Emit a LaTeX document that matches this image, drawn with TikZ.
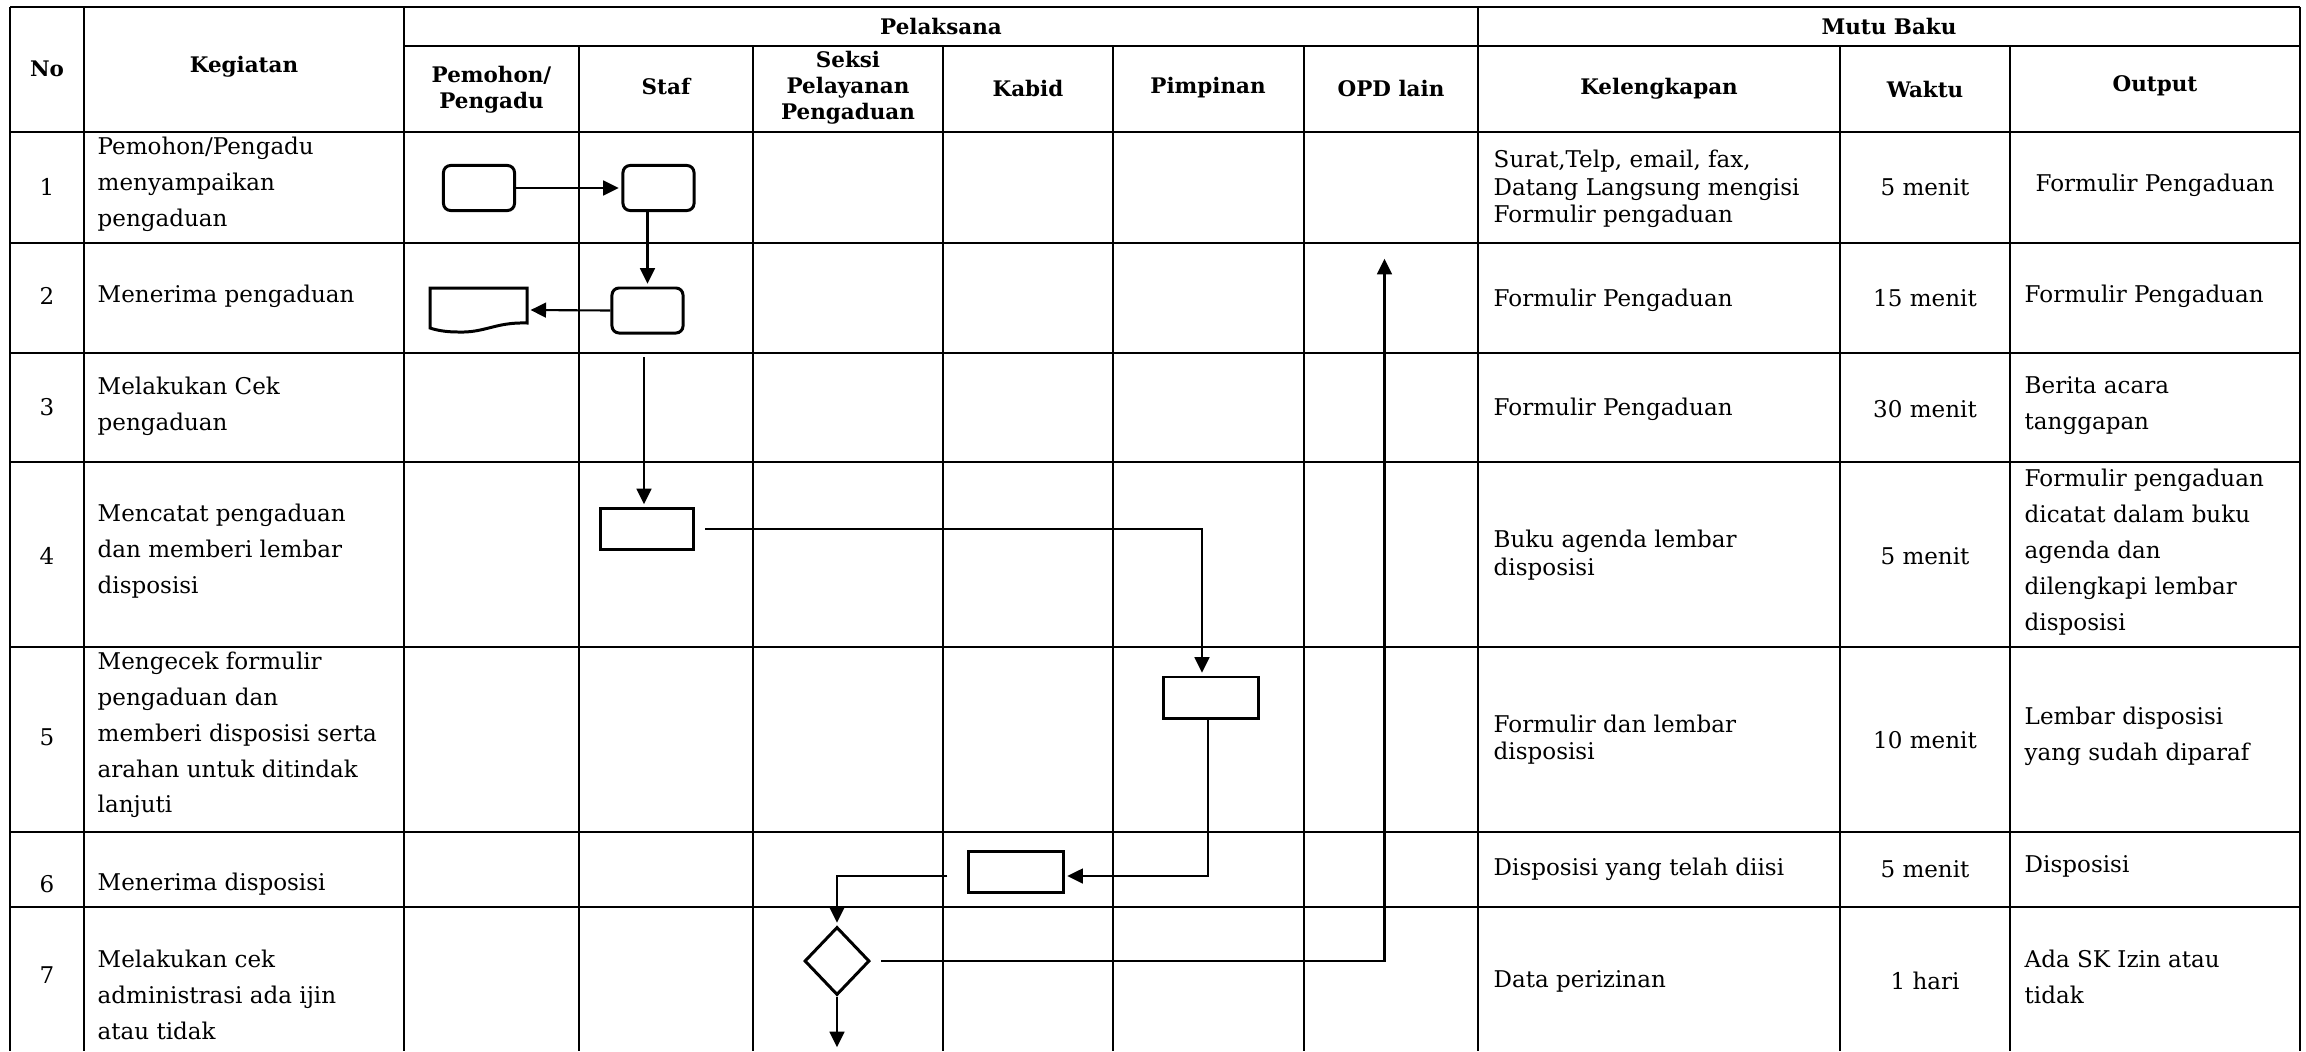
\documentclass[tikz,border=0pt]{standalone}
\usepackage{fontspec}
\setmainfont{DejaVu Serif}
\usetikzlibrary{arrows.meta,shapes.geometric,calc}
\begin{document}
\begin{tikzpicture}[x=0.01cm,y=-0.01cm,
  tbl/.style={line width=0.75pt},
  rbox/.style={draw,line width=0.85pt,rounded corners=2pt,minimum width=0.71cm,minimum height=0.45cm,inner sep=0},
  sbox/.style={draw,line width=0.85pt,minimum width=0.94cm,minimum height=0.41cm,inner sep=0},
  dec/.style={draw,diamond,line width=0.85pt,minimum width=0.65cm,minimum height=0.68cm,inner sep=0},
  conn/.style={line width=0.6pt,shorten >=0.8pt,-{Triangle[length=4.4pt,width=4.2pt]}},
  hd/.style={font=\bfseries\fontsize{6.1pt}{7.4pt}\selectfont,align=center,inner sep=0},
  tx/.style={font=\fontsize{6.55pt}{10.2pt}\selectfont,align=left,inner sep=0,anchor=west},
  tk/.style={font=\fontsize{6.55pt}{7.8pt}\selectfont,align=left,inner sep=0,anchor=west},
  tc/.style={font=\fontsize{6.55pt}{10.2pt}\selectfont,align=center,inner sep=0}]
\useasboundingbox[fill=white] (0,0) rectangle (2306,1051);
% table lines
\foreach \x in {10,84,404,1478,2300} \draw[tbl] (\x,7) -- (\x,1051);
\foreach \x in {579,753,943,1113,1304,1840,2010} \draw[tbl] (\x,46) -- (\x,1051);
\draw[tbl] (10,7) -- (2300,7);
\draw[tbl] (404,46) -- (2300,46);
\foreach \y in {132,243,353,462,647,832,907} \draw[tbl] (10,\y) -- (2300,\y);
% headers
\node[hd] (hNo) at (47,69) {No};
\node[hd] (hKeg) at (244,67) {Kegiatan};
\node[hd] (hPel) at (941,26) {Pelaksana};
\node[hd] (hMutu) at (1889,26) {Mutu Baku};
\node[hd] (hPem) at (491.5,90) {Pemohon/\\Pengadu};
\node[hd] (hStaf) at (666,86) {Staf};
\node[hd] (hSeksi) at (848,88) {Seksi\\Pelayanan\\Pengaduan};
\node[hd] (hKabid) at (1028,88) {Kabid};
\node[hd] (hPimp) at (1208,88) {Pimpinan};
\node[hd] (hOPD) at (1391,88) {OPD lain};
\node[hd] (hKel) at (1659,89) {Kelengkapan};
\node[hd] (hWaktu) at (1925,89) {Waktu};
\node[hd] (hOut) at (2155,86) {Output};
% numbers
\node[tc] (n1) at (47,187) {1};
\node[tc] (n2) at (47,296) {2};
\node[tc] (n3) at (47,407) {3};
\node[tc] (n4) at (47,556) {4};
\node[tc] (n5) at (47,737) {5};
\node[tc] (n6) at (47,884) {6};
\node[tc] (n7) at (47,975) {7};
% kegiatan
\node[tx] (k1) at (97,184) {Pemohon/Pengadu\\menyampaikan\\pengaduan};
\node[tx] (k2) at (97,296) {Menerima pengaduan};
\node[tx] (k3) at (97,406) {Melakukan Cek\\pengaduan};
\node[tx] (k4) at (97,551) {Mencatat pengaduan\\dan memberi lembar\\disposisi};
\node[tx] (k5) at (97,735) {Mengecek formulir\\pengaduan dan\\memberi disposisi serta\\arahan untuk ditindak\\lanjuti};
\node[tx] (k6) at (97,884) {Menerima disposisi};
\node[tx] (k7) at (97,995) {Melakukan cek\\administrasi ada ijin\\atau tidak};
% kelengkapan
\node[tk] (l1) at (1493,189) {Surat,Telp, email, fax,\\Datang Langsung mengisi\\Formulir pengaduan};
\node[tk] (l2) at (1493,300) {Formulir Pengaduan};
\node[tk] (l3) at (1493,409) {Formulir Pengaduan};
\node[tk] (l4) at (1493,555) {Buku agenda lembar\\disposisi};
\node[tk] (l5) at (1493,739.5) {Formulir dan lembar\\disposisi};
\node[tk] (l6) at (1493,869) {Disposisi yang telah diisi};
\node[tk] (l7) at (1493,981) {Data perizinan};
% waktu
\node[tc] (w1) at (1925,187) {5 menit};
\node[tc] (w2) at (1925,298.5) {15 menit};
\node[tc] (w3) at (1925,409) {30 menit};
\node[tc] (w4) at (1925,556) {5 menit};
\node[tc] (w5) at (1925,740) {10 menit};
\node[tc] (w6) at (1925,869) {5 menit};
\node[tc] (w7) at (1925,981) {1 hari};
% output
\node[tc] (o1) at (2155,185) {Formulir Pengaduan};
\node[tx] (o2) at (2024,296) {Formulir Pengaduan};
\node[tx] (o3) at (2024,406) {Berita acara\\tanggapan};
\node[tx] (o4) at (2024,552) {Formulir pengaduan\\dicatat dalam buku\\agenda dan\\dilengkapi lembar\\disposisi};
\node[tx] (o5) at (2024,736) {Lembar disposisi\\yang sudah diparaf};
\node[tx] (o6) at (2024,866) {Disposisi};
\node[tx] (o7) at (2024,977) {Ada SK Izin atau\\tidak};
% flow shapes
\node[rbox] (rr1) at (479,188) {};
\node[rbox] (rr2) at (658.5,188) {};
\node[rbox] (rr3) at (647.5,310.5) {};
\node[inner sep=0,minimum width=0.97cm,minimum height=0.44cm] (doc) at (478.5,310) {};
\draw[line width=0.85pt] (430,288) -- (527,288) -- (527,323)
  .. controls (495,322) and (485,333) .. (458,332)
  .. controls (445,332) and (436,330) .. (430,328) -- cycle;
\node[sbox,minimum width=0.93cm] (r4) at (647,529) {};
\node[sbox] (r5) at (1211,697.5) {};
\node[sbox] (r6) at (1016,872) {};
\node[dec] (dia) at (837,961) {};
\coordinate (s3) at (644,357);
\coordinate (end7) at (837,1050);
\coordinate (opd) at (1384.5,256);
% connectors
\draw[conn] (rr1.east) -- (rr2.west);
\draw[conn] (rr3.north |- rr2.south) -- (rr3.north);
\draw[conn] (rr3.west) -- (doc.east);
\draw[conn] (s3) -- (s3 |- r4.north);
\draw[conn] ([xshift=0.1cm]r4.east) -| ([xshift=-0.09cm]r5.north);
\draw[conn] ([xshift=-0.03cm]r5.south) |- ([yshift=-0.04cm]r6.east);
\draw[conn] ([xshift=-0.2cm,yshift=-0.04cm]r6.west) -| (dia.north);
\draw[conn] (dia.south) -- (end7);
\draw[conn] ([xshift=0.1cm]dia.east) -| (opd);
\end{tikzpicture}
\end{document}
